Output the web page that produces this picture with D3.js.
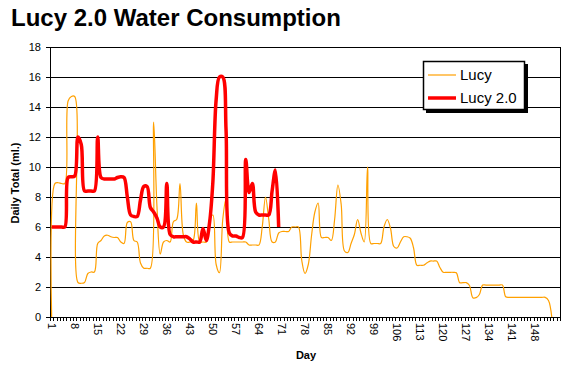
<!DOCTYPE html>
<html><head><meta charset="utf-8">
<script src="https://cdn.jsdelivr.net/npm/d3@7/dist/d3.min.js"></script>
<style>body{margin:0;background:#fff} svg{display:block} text{font-family:"Liberation Sans",Arial,sans-serif}</style>
</head><body>
<svg id="c" width="566" height="367"></svg>
<script>
const days = d3.range(1, 156);
const tickLabels = [1,8,15,22,29,36,43,50,57,64,71,78,85,92,99,106,113,120,127,134,141,148];
const yTicks = [0,2,4,6,8,10,12,14,16,18];
const seriesNames = ["Lucy", "Lucy 2.0"];
const lucy = [
 0, 8.9, 8.95, 8.9, 8.9, 14.4, 14.7, 14.7, 2.3, 2.25,
 2.3, 2.9, 3.0, 3.0, 4.9, 5.1, 5.4, 5.45, 5.35, 5.3,
 5.3, 5.0, 4.9, 6.3, 6.35, 5.1, 5.0, 3.6, 3.25, 3.25,
 3.25, 13.0, 7.4, 4.2, 5.0, 5.1, 5.0, 6.35, 6.5, 8.9,
 5.5, 5.0, 5.0, 5.1, 7.6, 5.0, 5.0, 5.0, 6.5, 6.8,
 3.5, 2.95, 6.5, 7.9, 5.0, 5.0, 5.0, 5.0, 5.0, 5.0,
 4.8, 4.8, 4.8, 4.8, 6.0, 8.0, 6.5, 5.0, 5.0, 5.6,
 5.7, 5.7, 5.7, 6.0, 6.0, 6.0, 3.8, 2.9, 3.5, 5.45,
 7.0, 7.6, 5.3, 5.3, 5.3, 5.1, 6.5, 8.8, 7.5, 4.4,
 4.3, 4.9, 5.5, 6.5, 5.6, 5.0, 10.0, 4.9, 4.9, 4.9,
 4.9, 6.0, 6.5, 5.9, 4.7, 4.6, 5.0, 5.35, 5.35, 5.25,
 4.6, 3.45, 3.45, 3.45, 3.6, 3.73, 3.73, 3.73, 3.3, 2.98,
 2.98, 2.98, 2.98, 2.95, 2.29, 2.29, 2.29, 2.1, 1.29, 1.29,
 1.5, 2.13, 2.13, 2.13, 2.13, 2.13, 2.13, 2.13, 1.35, 1.31,
 1.31, 1.31, 1.31, 1.31, 1.31, 1.31, 1.31, 1.31, 1.31, 1.31,
 1.31, 1.1, 0
];
const lucy2 = [
 6.0, 6.0, 6.0, 6.0, 6.0, 9.3, 9.35, 9.4, 12.0, 11.5,
 8.4, 8.4, 8.4, 8.4, 12.0, 9.3, 9.2, 9.2, 9.2, 9.2,
 9.3, 9.35, 9.3, 8.0, 6.8, 6.7, 6.7, 7.8, 8.7, 8.7,
 7.3, 7.0, 6.6, 6.0, 6.0, 8.9, 5.5, 5.35, 5.35, 5.35,
 5.35, 5.35, 5.2, 5.0, 5.0, 5.0, 5.9, 5.1, 6.3, 9.0,
 14.5, 16.0, 16.0, 12.5, 5.6, 5.4, 5.4, 5.3, 5.3, 10.5,
 8.3, 8.9, 7.0, 6.8, 6.8, 6.8, 6.8, 8.4, 9.8, 6.0
];
const colors = ["#FFA000", "#FF0000"];

const svg = d3.select("#c");
const L = 50, R = 560, T = 47, B = 317;
const x = d3.scaleBand().domain(days).range([L, R]).paddingInner(0).paddingOuter(0);
const bw = x.bandwidth();
const y = d3.scaleLinear().domain([0, 18]).range([B, T]);

// title
svg.append("text").attr("x", 11).attr("y", 26).attr("font-size", 24).attr("font-weight", "bold").text("Lucy 2.0 Water Consumption");

// gridlines
svg.append("g").selectAll("line").data(yTicks.filter(d => d > 0)).join("line")
  .attr("x1", L).attr("x2", R).attr("y1", d => y(d)).attr("y2", d => y(d))
  .attr("stroke", "#000").attr("stroke-width", 1).attr("shape-rendering", "crispEdges");

// y axis
const ya = svg.append("g").attr("transform", `translate(${L},0)`)
  .call(d3.axisLeft(y).tickValues(yTicks).tickSize(4).tickPadding(5).tickSizeOuter(0));
ya.select(".domain").remove();
ya.selectAll("line").attr("shape-rendering", "crispEdges");
ya.selectAll("text").attr("font-size", 11).attr("font-family", "Liberation Sans, Arial, sans-serif");

// plot border
svg.append("line").attr("x1", L).attr("x2", L).attr("y1", T).attr("y2", B).attr("stroke", "#000").attr("shape-rendering", "crispEdges");
svg.append("line").attr("x1", R).attr("x2", R).attr("y1", T).attr("y2", B).attr("stroke", "#000").attr("shape-rendering", "crispEdges");
svg.append("line").attr("x1", L).attr("x2", R).attr("y1", B).attr("y2", B).attr("stroke", "#000").attr("shape-rendering", "crispEdges");

// x ticks at category boundaries
const bounds = days.map(d => x(d)).concat([R]);
svg.append("g").selectAll("line").data(bounds).join("line")
  .attr("x1", d => Math.round(d) + 0.5).attr("x2", d => Math.round(d) + 0.5).attr("y1", B).attr("y2", B + 4)
  .attr("stroke", "#000");

// x labels
svg.append("g").selectAll("text").data(tickLabels).join("text")
  .attr("transform", d => `translate(${x(d) + bw / 2},${B + 6}) rotate(90)`)
  .attr("dy", "0.35em").attr("font-size", 11).text(d => d);

// axis titles
svg.append("text").attr("x", 306).attr("y", 359).attr("text-anchor", "middle").attr("font-size", 11).attr("font-weight", "bold").text("Day");
svg.append("text").attr("transform", "translate(19,183) rotate(-90)").attr("text-anchor", "middle").attr("font-size", 11).attr("font-weight", "bold").text("Daily Total (ml.)");

// lines
const line = d3.line().x((d, i) => x(days[i]) + bw / 2).y(d => y(d)).curve(d3.curveCatmullRom.alpha(0.5));
svg.append("path").attr("d", line(lucy)).attr("fill", "none").attr("stroke", colors[0]).attr("stroke-width", 1.2);
svg.append("path").attr("d", line(lucy2)).attr("fill", "none").attr("stroke", colors[1]).attr("stroke-width", 3.5).attr("stroke-linejoin", "round");

// legend
const lg = svg.append("g");
lg.append("rect").attr("x", 426).attr("y", 64).attr("width", 102).attr("height", 49).attr("fill", "#000");
lg.append("rect").attr("x", 423.5).attr("y", 61.5).attr("width", 101).attr("height", 48).attr("fill", "#fff").attr("stroke", "#000").attr("stroke-width", 1.5);
const ly = [75, 98];
seriesNames.forEach((n, i) => {
  lg.append("line").attr("x1", 428).attr("x2", 456).attr("y1", ly[i]).attr("y2", ly[i])
    .attr("stroke", colors[i]).attr("stroke-width", i === 0 ? 1.2 : 3.5);
  lg.append("text").attr("x", 460).attr("y", ly[i]).attr("dy", "0.36em").attr("font-size", 15).text(n);
});
</script>
</body></html>
